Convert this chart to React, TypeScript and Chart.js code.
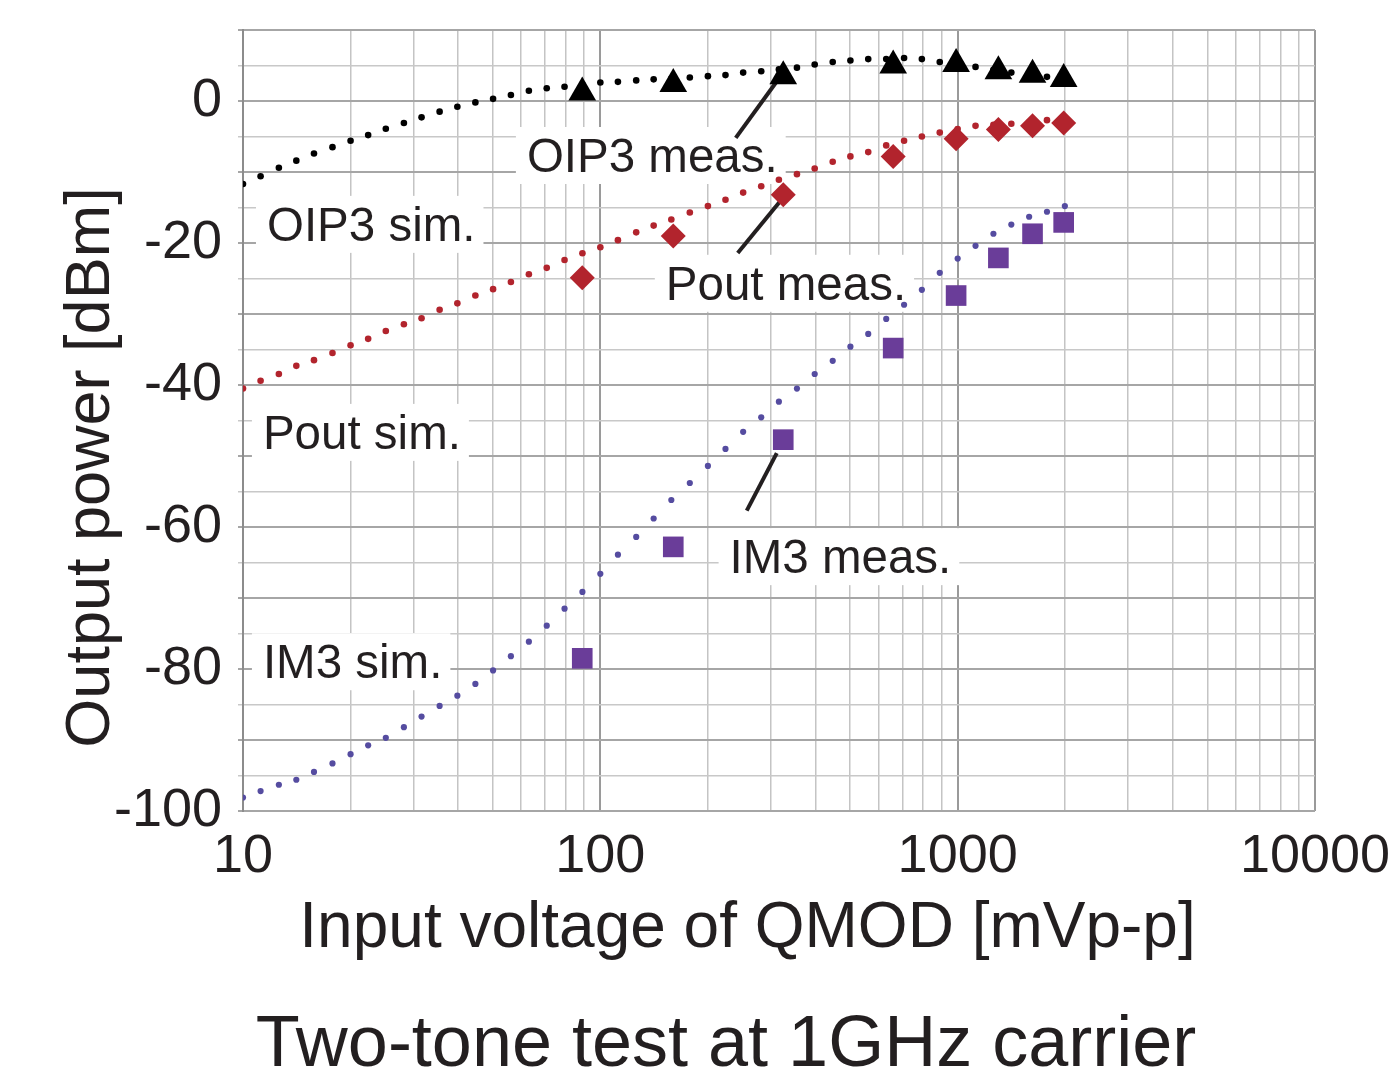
import React, { useEffect, useRef } from 'react';
import { Chart, registerables } from 'chart.js';

Chart.register(...registerables);

const FONT = '"Liberation Sans", Arial, Helvetica, sans-serif';
const TEXT = '#231f20';

// Simulation input voltages [mVp-p] (log-spaced sweep)
const simX = [10, 11.2, 12.6, 14.1, 15.8, 17.8, 20, 22.4, 25.1, 28.2, 31.6, 35.5, 39.8, 44.7, 50.1, 56.2, 63.1, 70.8, 79.4, 89.1,
  100, 112, 126, 141, 158, 178, 200, 224, 251, 282, 316, 355, 398, 447, 501, 562, 631, 708, 794, 891,
  1000, 1122, 1259, 1413, 1585, 1778, 1995];

const oip3Sim = [-11.7, -10.6, -9.4, -8.4, -7.4, -6.5, -5.6, -4.8, -3.9, -3.1, -2.3, -1.5, -0.8, -0.2, 0.3, 0.85, 1.45, 1.8, 2.0, 2.3,
  2.6, 2.7, 2.9, 3.05, 3.15, 3.3, 3.5, 3.65, 4.0, 4.2, 4.45, 4.7, 5.15, 5.5, 5.7, 5.9, 5.9, 6.05, 5.9, 5.5,
  5.2, 4.8, 4.4, 4.0, 3.7, 3.4, 3.1];

const poutSim = [-40.5, -39.4, -38.45, -37.3, -36.5, -35.5, -34.4, -33.5, -32.4, -31.45, -30.6, -29.4, -28.5, -27.4, -26.5, -25.5, -24.4, -23.5, -22.4, -21.45,
  -20.6, -19.6, -18.5, -17.55, -16.7, -15.7, -14.8, -13.9, -12.9, -12.0, -11.1, -10.3, -9.5, -8.55, -7.8, -7.2, -6.25, -5.6, -5.0, -4.45,
  -3.95, -3.5, -3.35, -3.2, -3.0, -2.7, -2.5];

const im3Sim = [-98.1, -97.2, -96.3, -95.6, -94.5, -93.3, -92.0, -90.75, -89.7, -88.2, -86.7, -85.2, -83.75, -82.1, -80.2, -78.2, -76.15, -73.9, -71.5, -69.15,
  -66.6, -63.9, -61.4, -58.8, -56.2, -53.8, -51.4, -49.0, -46.6, -44.55, -42.35, -40.5, -38.45, -36.6, -34.6, -32.8, -30.7, -28.7, -26.6, -24.2,
  -22.2, -20.4, -18.7, -17.4, -16.3, -15.6, -14.8];

// Measurements
const measX = [89, 160, 325, 660, 990, 1300, 1620, 1980];
const oip3Meas = [1.2, 2.4, 3.5, 5.0, 5.2, 4.2, 3.7, 3.1];
const poutMeas = [-24.9, -19.0, -13.2, -7.8, -5.3, -4.0, -3.5, -3.1];
const im3Meas = [-78.5, -62.8, -47.7, -34.8, -27.4, -22.1, -18.7, -17.1];

// Axis ticks / grid
const xGrid = [10, 20, 30, 40, 50, 60, 70, 80, 90, 100, 200, 300, 400, 500, 600, 700, 800, 900,
  1000, 2000, 3000, 4000, 5000, 6000, 7000, 8000, 9000, 10000];
const xLabels = [10, 100, 1000, 10000];
const yLabels = [0, -20, -40, -60, -80, -100];

// Annotations (text anchored at data coords: left edge / baseline)
const labelTexts = ['OIP3 meas.', 'OIP3 sim.', 'Pout meas.', 'Pout sim.', 'IM3 meas.', 'IM3 sim.'];
const labelX = [62.3, 11.67, 152.5, 11.37, 230, 11.37];
const labelY = [-10.0, -19.7, -28.0, -49.0, -66.5, -81.3];

// Leader lines (data coords)
const leaderX1 = [239.3, 242.4, 256.9];
const leaderY1 = [-5.2, -21.4, -57.7];
const leaderX2 = [313.8, 317.8, 311.7];
const leaderY2 = [2.96, -14.2, -49.6];

const RED = '#b2242d';
const PURPLE = '#6a3d99';
const BLUE_DOT = '#554ca0';

const pts = (xs: number[], ys: number[]) => xs.map((x, i) => ({ x, y: ys[i] }));
const isPow10 = (v: number) => Math.abs(Math.log10(v) - Math.round(Math.log10(v))) < 1e-9;

const annoPlugin = {
  id: 'annos',
  beforeDatasetsDraw(chart: any) {
    const { ctx } = chart;
    const xs = chart.scales.x;
    const ys = chart.scales.y;
    ctx.save();
    ctx.font = `47.5px ${FONT}`;
    ctx.textBaseline = 'alphabetic';
    ctx.textAlign = 'left';
    labelTexts.forEach((t, i) => {
      const px = xs.getPixelForValue(labelX[i]);
      const py = ys.getPixelForValue(labelY[i]);
      const w = ctx.measureText(t).width;
      ctx.fillStyle = '#ffffff';
      ctx.fillRect(px - 11, py - 45, w + 19, 57);
      ctx.fillStyle = TEXT;
      ctx.fillText(t, px, py);
    });
    ctx.strokeStyle = TEXT;
    ctx.lineWidth = 4;
    ctx.lineCap = 'butt';
    leaderX1.forEach((_, i) => {
      ctx.beginPath();
      ctx.moveTo(xs.getPixelForValue(leaderX1[i]), ys.getPixelForValue(leaderY1[i]));
      ctx.lineTo(xs.getPixelForValue(leaderX2[i]), ys.getPixelForValue(leaderY2[i]));
      ctx.stroke();
    });
    ctx.restore();
  },
  afterDraw(chart: any) {
    const { ctx } = chart;
    ctx.save();
    ctx.fillStyle = TEXT;
    ctx.textBaseline = 'alphabetic';
    ctx.textAlign = 'center';
    // y-axis title
    ctx.save();
    ctx.translate(109, 467.5);
    ctx.rotate(-Math.PI / 2);
    ctx.font = `63px ${FONT}`;
    ctx.fillText('Output power [dBm]', 0, 0);
    ctx.restore();
    // x-axis title
    ctx.font = `64px ${FONT}`;
    ctx.fillText('Input voltage of QMOD [mVp-p]', 747.5, 947);
    // chart title
    ctx.font = `72px ${FONT}`;
    ctx.fillText('Two-tone test at 1GHz carrier', 726, 1066);
    ctx.restore();
  },
};

export default function App() {
  const ref = useRef<HTMLCanvasElement>(null);
  useEffect(() => {
    document.body.style.margin = '0';
    document.body.style.overflow = 'hidden';
    const chart = new Chart(ref.current as HTMLCanvasElement, {
      type: 'scatter',
      data: {
        datasets: [
          { label: 'OIP3 meas.', data: pts(measX, oip3Meas), pointStyle: 'triangle', pointRadius: 16, backgroundColor: '#000000', borderWidth: 0, order: 0 },
          { label: 'Pout meas.', data: pts(measX, poutMeas), pointStyle: 'rectRot', pointRadius: 12.5, backgroundColor: RED, borderWidth: 0, order: 0 },
          { label: 'IM3 meas.', data: pts(measX, im3Meas), pointStyle: 'rect', pointRadius: 14.6, backgroundColor: PURPLE, borderWidth: 0, order: 0 },
          { label: 'OIP3 sim.', data: pts(simX, oip3Sim), pointStyle: 'circle', pointRadius: 3.3, backgroundColor: '#000000', borderWidth: 0, order: 1 },
          { label: 'Pout sim.', data: pts(simX, poutSim), pointStyle: 'circle', pointRadius: 3.3, backgroundColor: RED, borderWidth: 0, order: 1 },
          { label: 'IM3 sim.', data: pts(simX, im3Sim), pointStyle: 'circle', pointRadius: 3.1, backgroundColor: BLUE_DOT, borderWidth: 0, order: 1 },
        ] as any,
      },
      options: {
        responsive: false,
        animation: false,
        events: [],
        layout: { padding: { top: 30, right: 83, left: 0, bottom: 0 } },
        plugins: {
          legend: { display: false },
          tooltip: { enabled: false },
          title: { display: false },
        },
        scales: {
          x: {
            type: 'logarithmic',
            min: 10,
            max: 10000,
            afterBuildTicks: (s: any) => { s.ticks = xGrid.map((v) => ({ value: v, major: isPow10(v) })); },
            afterFit: (s: any) => { s.height = 269; s.paddingLeft = 0; s.paddingRight = 0; },
            grid: {
              drawTicks: false,
              color: (c: any) => (c.tick && isPow10(c.tick.value) ? '#9a9a9a' : '#c4c4c4'),
              lineWidth: (c: any) => (c.tick && isPow10(c.tick.value) ? 2 : 1.5),
            },
            border: { display: false },
            ticks: {
              autoSkip: false,
              maxRotation: 0,
              minRotation: 0,
              padding: 14,
              color: TEXT,
              font: { family: FONT, size: 54 },
              callback: (v: any) => (xLabels.includes(Number(v)) ? String(v) : ''),
            },
          },
          y: {
            type: 'linear',
            min: -100,
            max: 10,
            afterFit: (s: any) => { s.width = 243; s.paddingTop = 0; s.paddingBottom = 0; },
            grid: {
              drawTicks: true,
              tickLength: 5,
              color: (c: any) => (c.tick && c.tick.value % 10 === 0 ? '#a6a6a6' : '#c8c8c8'),
              lineWidth: (c: any) => (c.tick && c.tick.value % 10 === 0 ? 2 : 1.5),
            },
            border: { display: true, color: '#8c8c8c', width: 2 },
            ticks: {
              stepSize: 5,
              autoSkip: false,
              padding: 16,
              color: TEXT,
              font: { family: FONT, size: 54 },
              callback: (v: any) => (yLabels.includes(Number(v)) ? String(v) : ''),
            },
          },
        },
      } as any,
      plugins: [annoPlugin],
    });
    return () => chart.destroy();
  }, []);
  return <canvas ref={ref} width={1398} height={1080} style={{ display: 'block' }} />;
}
